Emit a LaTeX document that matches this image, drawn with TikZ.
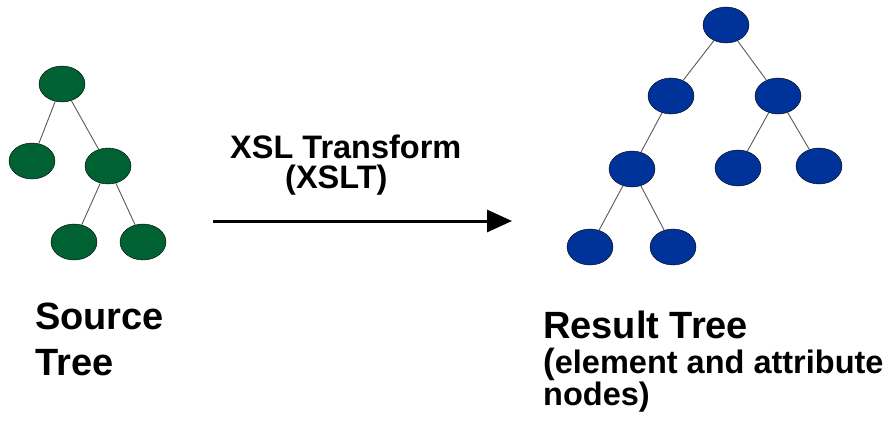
\documentclass[tikz,border=0pt]{standalone}
\usepackage{fontspec}
\setmainfont{Liberation Sans}
\usepackage{tikz}
\usetikzlibrary{arrows.meta}
\usetikzlibrary{shapes.geometric}
\definecolor{srcgreen}{RGB}{0,98,50}
\definecolor{resblue}{RGB}{0,51,153}
\tikzset{srcnode/.style={shape=ellipse, draw=black, fill=srcgreen, minimum width=46pt, minimum height=36pt, inner sep=0pt}}
\tikzset{resnode/.style={shape=ellipse, draw=black, fill=resblue, minimum width=46pt, minimum height=36pt, inner sep=0pt}}
\tikzset{edge/.style={draw=black!65, line width=0.9pt}}
\tikzset{lbl/.style={anchor=base west, inner sep=0pt, font=\bfseries}}

\begin{document}
\begin{tikzpicture}[x=1pt,y=-1pt]
                \useasboundingbox (0,0) rectangle (894,434);

                % source tree
                \node[srcnode] (A) at (62,84) {};
                \node[srcnode] (B) at (32,161) {};
                \node[srcnode] (C) at (108,166) {};
                \node[srcnode] (D) at (74,242) {};
                \node[srcnode] (E) at (143,242) {};

                \draw[edge] (A) -- (B);
                \draw[edge] (A) -- (C);
                \draw[edge] (C) -- (D);
                \draw[edge] (C) -- (E);

                % result tree
                \node[resnode] (F) at (726,25) {};
                \node[resnode] (G) at (671,96) {};
                \node[resnode] (H) at (778,96) {};
                \node[resnode] (I) at (632,169) {};
                \node[resnode] (J) at (738,168) {};
                \node[resnode] (K) at (819,166) {};
                \node[resnode] (L) at (590,247) {};
                \node[resnode] (M) at (673,247) {};

                \draw[edge] (F) -- (G);
                \draw[edge] (F) -- (H);
                \draw[edge] (G) -- (I);
                \draw[edge] (H) -- (J);
                \draw[edge] (H) -- (K);
                \draw[edge] (I) -- (L);
                \draw[edge] (I) -- (M);

                % transform arrow
                \coordinate (P) at (213,221);
                \coordinate (Q) at (512,221);
                \draw[line width=3pt, -{Triangle[length=25pt, width=22pt]}] (P) -- (Q);
                \node[lbl, font=\bfseries\fontsize{32.5}{36}\selectfont] (T1) at (230,158) {XSL Transform};
                \node[lbl, font=\bfseries\fontsize{32.5}{36}\selectfont] (T2) at (285,188) {(XSLT)};

                % labels
                \node[lbl, font=\bfseries\fontsize{38}{42}\selectfont] (S1) at (35,329) {Source};
                \node[lbl, font=\bfseries\fontsize{38}{42}\selectfont] (S2) at (35,375) {Tree};
                \node[lbl, font=\bfseries\fontsize{38}{42}\selectfont] (R1) at (543,338) {Result Tree};
                \node[lbl, font=\bfseries\fontsize{32.5}{36}\selectfont] (R2) at (543,373) {{\fontsize{35}{40}\selectfont(}element and attribute};
                \node[lbl, font=\bfseries\fontsize{32.5}{36}\selectfont] (R3) at (543,405) {nodes)};

            \end{tikzpicture}
\end{document}
